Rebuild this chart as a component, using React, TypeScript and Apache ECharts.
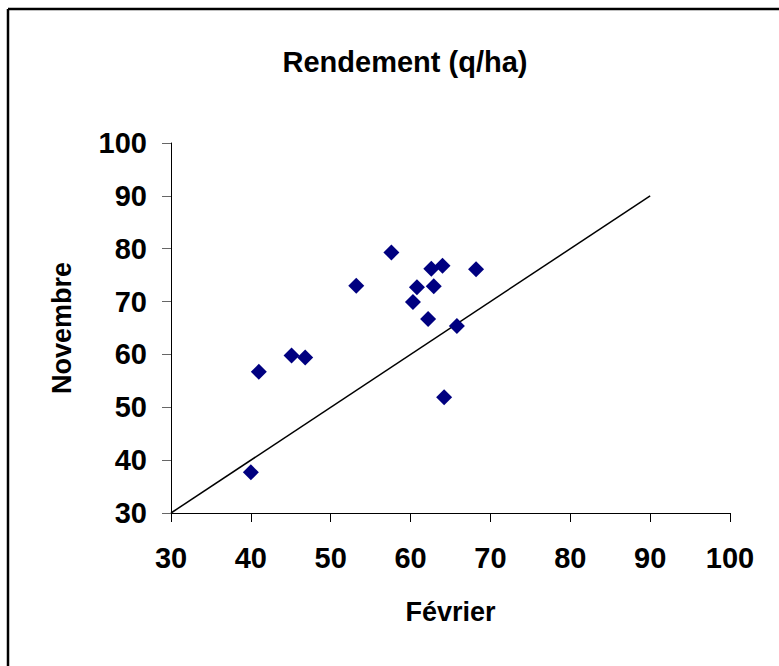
import React, { useEffect, useRef } from "react";
import * as echarts from "echarts";

const titleText = "Rendement (q/ha)";
const xName = "Février";
const yName = "Novembre";

// Février (x) and Novembre (y) yields, q/ha
const fevrier = [40.0, 41.0, 45.1, 46.8, 53.2, 57.6, 60.3, 60.8, 62.2, 62.6, 62.9, 64.0, 64.2, 65.8, 68.2];
const novembre = [37.7, 56.7, 59.8, 59.4, 73.0, 79.3, 69.9, 72.7, 66.7, 76.2, 72.9, 76.8, 51.9, 65.4, 76.1];

// reference line y = x
const refLineX = [30, 90];
const refLineY = [30, 90];

const axisMin = 30;
const axisMax = 100;
const axisStep = 10;

const FONT = "'Liberation Sans', Arial, sans-serif";

export default function App() {
  const ref = useRef<HTMLDivElement>(null);

  useEffect(() => {
    document.body.style.margin = "0";
    const chart = echarts.init(ref.current!, null, { renderer: "svg" });
    const scatterData = fevrier.map((x, i) => [x, novembre[i]]);
    const lineData = refLineX.map((x, i) => [x, refLineY[i]]);

    const axisCommon = {
      type: "value" as const,
      min: axisMin,
      max: axisMax,
      interval: axisStep,
      splitLine: { show: false },
      axisLine: { show: true, lineStyle: { color: "#000", width: 1 } },
      axisTick: { show: true, inside: false, length: 9, lineStyle: { color: "#000", width: 1 } },
      nameLocation: "middle" as const,
      nameTextStyle: { fontFamily: FONT, fontWeight: "bold" as const, fontSize: 27, color: "#000" },
    };

    chart.setOption({
      animation: false,
      backgroundColor: "#fff",
      title: {
        text: titleText,
        left: 400,
        top: 42,
        textAlign: "center",
        textStyle: { fontFamily: FONT, fontWeight: "bold", fontSize: 29, color: "#000" },
      },
      grid: { left: 171, top: 143, width: 559, height: 370, containLabel: false },
      xAxis: {
        ...axisCommon,
        name: xName,
        nameGap: 85,
        axisLabel: { margin: 30, fontFamily: FONT, fontWeight: "bold", fontSize: 29, color: "#000" },
      },
      yAxis: {
        ...axisCommon,
        name: yName,
        nameGap: 96,
        nameRotate: 90,
        axisTick: { show: true, inside: false, length: 9, lineStyle: { color: "#666", width: 1 } },
        axisLabel: { margin: 24, fontFamily: FONT, fontWeight: "bold", fontSize: 29, color: "#000" },
      },
      graphic: [
        { type: "line", shape: { x1: 8, y1: 9, x2: 779, y2: 9 }, style: { stroke: "#000", lineWidth: 2.5 } },
        { type: "line", shape: { x1: 8, y1: 9, x2: 8, y2: 666 }, style: { stroke: "#000", lineWidth: 2.5 } },
      ],
      series: [
        {
          type: "line",
          data: lineData,
          symbol: "none",
          lineStyle: { color: "#000", width: 1.5 },
          z: 2,
        },
        {
          type: "scatter",
          data: scatterData,
          symbol: "diamond",
          symbolSize: 16,
          itemStyle: { color: "#000080", opacity: 1 },
          z: 3,
        },
      ],
    });
    return () => chart.dispose();
  }, []);

  return <div ref={ref} style={{ position: "absolute", left: 0, top: 0, width: 779, height: 666 }} />;
}
